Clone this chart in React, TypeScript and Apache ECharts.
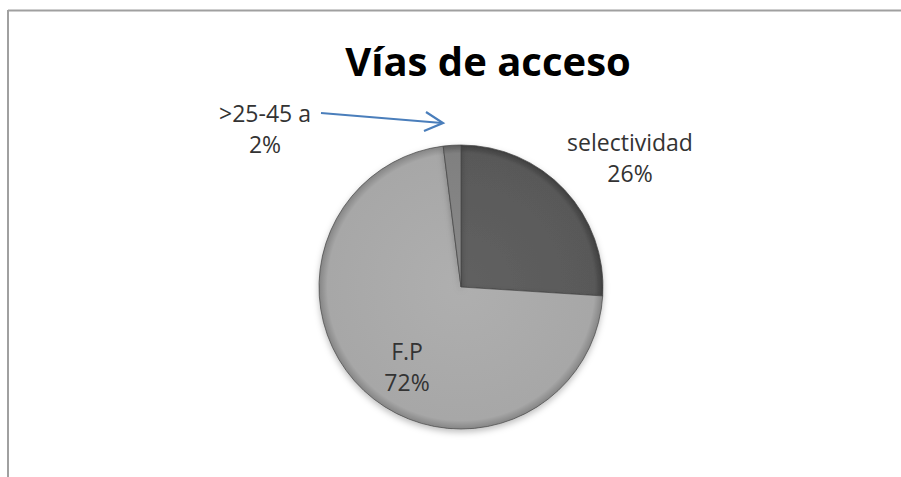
import React, { useEffect, useRef } from "react";
import * as echarts from "echarts";

const categories = ["selectividad", "F.P", ">25-45 a"];
const values = [26, 72, 2];
const percentLabels = ["26%", "72%", "2%"];
const titleText = "Vías de acceso";

const sliceColors = [
  ["#616161", "#595959", "#3e3e3e"],
  ["#afafaf", "#a7a7a7", "#858585"],
  ["#8a8a8a", "#808080", "#5e5e5e"],
];
const labelPos = [
  [630, 157],
  [407, 366],
  [265, 128],
];

const CX = 461;
const CY = 287;
const R = 142;

export default function App() {
  const ref = useRef<HTMLDivElement>(null);
  useEffect(() => {
    if (!ref.current) return;
    const chart = echarts.init(ref.current, null, { renderer: "svg" });
    const data = categories.map((name, i) => ({
      name,
      value: values[i],
      itemStyle: {
        color: new echarts.graphic.RadialGradient(
          CX,
          CY,
          R,
          [
            { offset: 0, color: sliceColors[i][0] },
            { offset: 0.94, color: sliceColors[i][1] },
            { offset: 1, color: sliceColors[i][2] },
          ],
          true
        ),
      },
      label: {
        formatter: () => `${name}\n${percentLabels[i]}`,
      },
    }));
    chart.setOption({
      animation: false,
      backgroundColor: "#ffffff",
      title: {
        text: titleText,
        left: 483,
        top: 35,
        textAlign: "center",
        textStyle: {
          fontFamily: "Open Sans",
          fontWeight: "bold",
          fontSize: 40,
          color: "#000000",
        },
      },
      graphic: [
        {
          type: "line",
          shape: { x1: 8, y1: 10.5, x2: 901, y2: 10.5 },
          style: { stroke: "#a0a0a0", lineWidth: 2 },
        },
        {
          type: "line",
          shape: { x1: 8, y1: 10, x2: 8, y2: 477 },
          style: { stroke: "#a0a0a0", lineWidth: 2 },
        },
        {
          type: "line",
          shape: { x1: 321, y1: 113, x2: 442, y2: 123 },
          style: { stroke: "#4a7ebb", lineWidth: 2.2 },
        },
        {
          type: "polyline",
          shape: { points: [[426, 112], [443, 123], [424, 131]] },
          style: { stroke: "#4a7ebb", lineWidth: 2.2, fill: "none" },
        },
      ],
      series: [
        {
          type: "pie",
          center: [CX, CY],
          radius: R,
          startAngle: 90,
          clockwise: true,
          avoidLabelOverlap: false,
          data,
          itemStyle: {
            borderColor: "rgba(70,70,70,0.7)",
            borderWidth: 1,
            shadowBlur: 6,
            shadowOffsetY: 3,
            shadowColor: "rgba(0,0,0,0.25)",
          },
          label: {
            show: true,
            position: "inside",
            fontFamily: "Open Sans",
            fontSize: 23,
            lineHeight: 31,
            color: "#333333",
            align: "center",
          },
          labelLine: { show: false },
          labelLayout: (params: any) => ({
            x: labelPos[params.dataIndex][0],
            y: labelPos[params.dataIndex][1],
            align: "center",
            verticalAlign: "middle",
          }),
          emphasis: { disabled: true },
        },
      ],
    });
    return () => chart.dispose();
  }, []);
  return (
    <div
      ref={ref}
      style={{ position: "fixed", left: 0, top: 0, width: 901, height: 477 }}
    />
  );
}
